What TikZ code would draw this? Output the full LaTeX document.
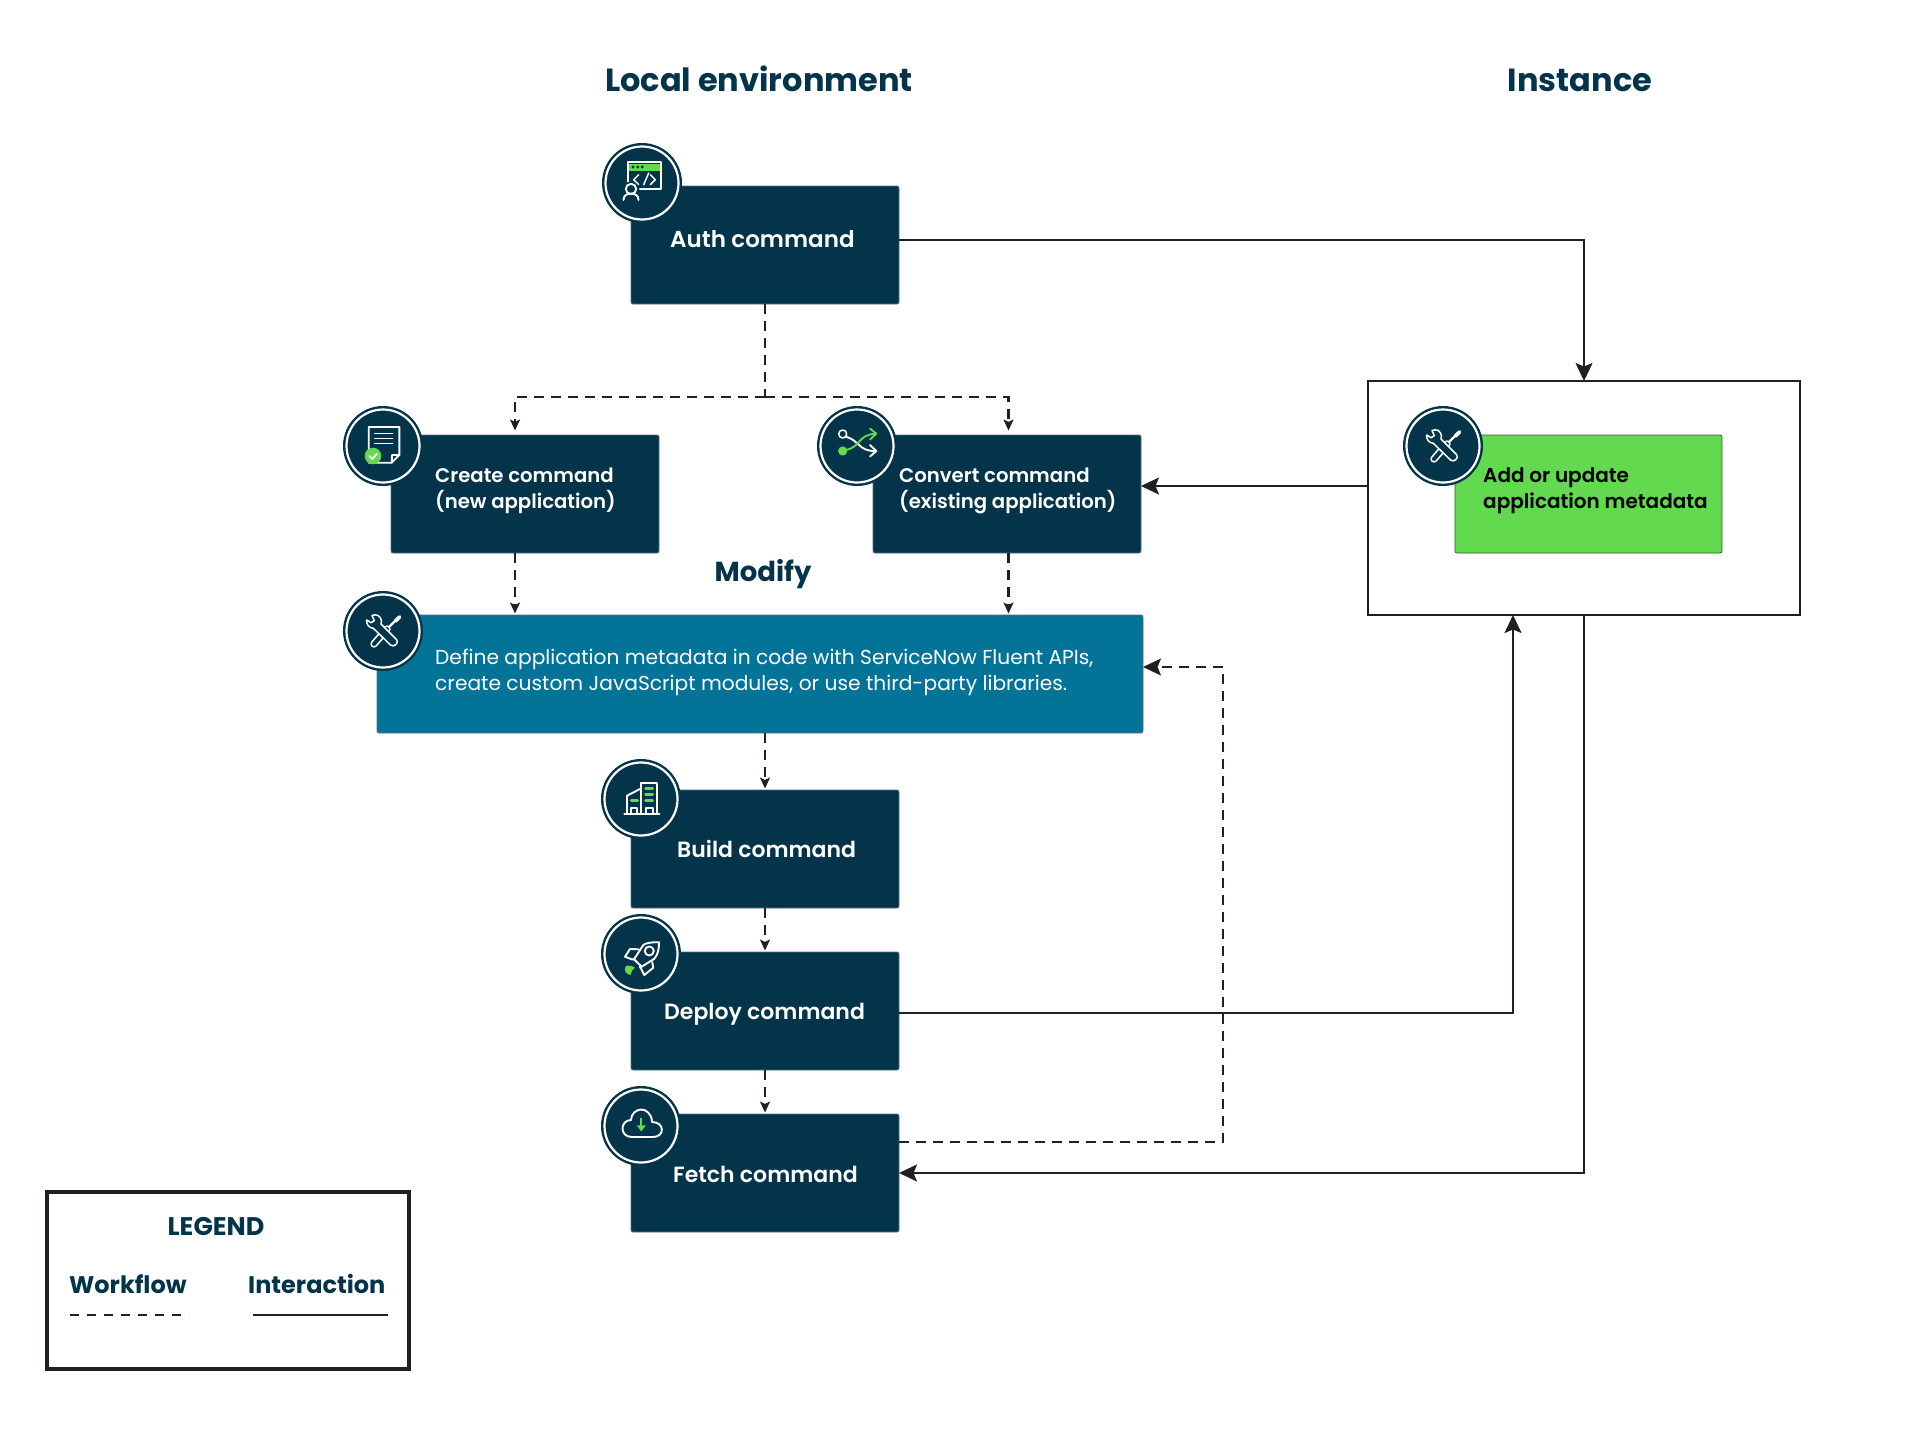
\documentclass[tikz,border=0pt]{standalone}
\usepackage{fontspec}
\setmainfont{Poppins}[BoldFont={Poppins SemiBold}]
\newfontfamily\headf{Poppins}
\usetikzlibrary{arrows.meta}
\definecolor{navy}{HTML}{03344A}
\definecolor{teal}{HTML}{047398}
\definecolor{lime}{HTML}{62D94F}
\definecolor{ink}{HTML}{231F20}
\newcommand{\labfont}[1]{\fontsize{#1}{26}\selectfont\bfseries}
\newcommand{\headfont}[1]{\fontsize{#1}{#1}\headf\bfseries}
\tikzset{
  x=1pt,y=-1pt,
  cmdbox/.style={rectangle,rounded corners=2pt,fill=navy,draw=navy!70!white,line width=.8pt,inner sep=0pt,outer sep=0pt,minimum width=268pt,minimum height=118pt},
  badge/.style={circle,fill=navy,inner sep=0pt,minimum size=80pt},
  boxlabel/.style={anchor=base west,inner sep=0pt,align=left,text=white,font=\labfont{22}},
  heading/.style={anchor=base,inner sep=0pt,text=navy,font=\headfont{32}},
  flow/.style={ink,line width=2.2pt,dash pattern=on 10pt off 7pt,-{Stealth[length=11pt,width=10pt,inset=2.5pt]}},
  link/.style={ink,line width=2pt,-{Stealth[length=18pt,width=17pt,inset=3.5pt]}},
  ico/.style={white,line width=1.9pt,line cap=round,line join=round},
  icofine/.style={white,line width=1.5pt,line cap=round,line join=round},
  pics/ring/.style={code={\draw[white,line width=2.2pt] (0,0) circle (36.5);}},
  pics/tools/.style={code={
    \draw[white,line width=7.4pt,line cap=round] (4,-2) -- (-9,13);
    \draw[navy,line width=4pt,line cap=round] (4,-2) -- (-9,13);
    \draw[white,line width=2.2pt,line cap=round] (6,-4) -- (13,-11);
    \draw[white,line width=3.8pt,line cap=round] (12.5,-10) -- (16.5,-14);
    \draw[icofine,fill=navy] (-16.3,-11) .. controls (-17,-7) and (-14,-3) .. (-9.7,-2.7) -- (7.5,14) .. controls (9.5,15.5) and (11.5,15) .. (13,13.5) .. controls (14.5,12) and (15,10) .. (13.5,8.5) -- (-2,-7) .. controls (-.5,-11) and (-3,-16.5) .. (-8,-16.2) -- (-11,-15.5) -- (-8.7,-10.3) -- (-12,-8.3) -- cycle;
  }},
  pics/authicon/.style={code={
    \draw[ico] (-14,-21) rectangle (19,6);
    \fill[lime] (-13,-19.5) rectangle (18,-12.5);
    \foreach \q in {-9,-4.3,.3} \fill[navy] (\q,-16) circle (1.6);
    \draw[icofine] (-3.3,-8.3) -- (-8.3,-3.3) -- (-3.3,1.7);
    \draw[icofine] (6.7,-10) -- (1.7,1.7);
    \draw[icofine] (8.3,-8.3) -- (13.3,-3.3) -- (8.3,1.7);
    \fill[navy] (-11,7) circle (8.5);
    \draw[ico] (-11,6) circle (5.2);
    \draw[ico] (-18.5,17) .. controls (-18.5,12.5) and (-15,10.5) .. (-11,10.5) .. controls (-7,10.5) and (-3.5,12.5) .. (-3.5,17);
  }},
  pics/docicon/.style={code={
    \draw[ico] (-14.3,-19) -- (16.3,-19) -- (16.3,9) -- (8.7,16.7) -- (-14.3,16.7) -- cycle;
    \draw[ico] (16.3,9) -- (9,9) -- (8.7,16.7);
    \foreach \q in {-12.3,-7.3,-2.3} \draw[icofine] (-8.3,\q) -- (9.7,\q);
    \fill[lime] (-10,10) circle (8.3);
    \draw[white,line width=1.8pt,line cap=round,line join=round] (-13.7,10) -- (-10.7,13) -- (-6,7.7);
  }},
  pics/swapicon/.style={code={
    \draw[ico] (-10.5,-9) .. controls (-3,-7) and (-1,-3) .. (1,-2) .. controls (6,3) and (10,5) .. (18,5);
    \draw[ico] (13,-1) -- (19.3,5) -- (13,10.5);
    \draw[icofine] (-14.3,-12) circle (4);
    \draw[lime,line width=1.9pt,line cap=round,line join=round] (-12,4) .. controls (-4,3) and (-1,-1) .. (1,-3) .. controls (6,-9) and (10,-12) .. (18,-12);
    \draw[lime,line width=1.9pt,line cap=round,line join=round] (13,-17.5) -- (19.3,-12.3) -- (13,-6.5);
    \fill[lime] (-14.3,5) circle (4.6);
  }},
  pics/buildicon/.style={code={
    \draw[ico] (-16.7,14.7) -- (18.3,14.7);
    \draw[ico] (.3,14.7) -- (.3,-16.3) -- (16,-16.3) -- (16,14.7);
    \draw[ico] (-14,14.7) -- (-14,-3.3) -- (.3,-10.7);
    \draw[ico] (-10,14.7) -- (-10,8.7) -- (-4,8.7) -- (-4,14.7);
    \draw[ico] (5,14.7) -- (5,8.7) -- (11.7,8.7) -- (11.7,14.7);
    \foreach \q in {-10.3,-4.3,1.7} \draw[lime,line width=3pt,line cap=round] (4.7,\q) -- (11.7,\q);
    \draw[lime,line width=3pt,line cap=round] (-9.7,1.7) -- (-3.3,1.7);
  }},
  pics/rocketicon/.style={code={
    \draw[ico] (18,-11.7) .. controls (10,-12) and (5,-11) .. (2.3,-9) -- (-7,5.3) -- (.7,12.7) -- (13,5) .. controls (17,1) and (18,-5) .. (18,-11.7) -- cycle;
    \draw[ico] (8.3,-3) circle (4.5);
    \draw[ico] (-2.5,-4.7) -- (-11,-5) -- (-16,2.7) -- (-9.3,5.3) -- (-7,5.3);
    \draw[ico] (11.3,8.3) -- (12.3,13.7) -- (3.3,21) -- (-1,12.7) -- (.7,12.7);
    \fill[lime] (-14.3,11.7) .. controls (-11,11) and (-8,12) .. (-6,13.7) .. controls (-8.5,15) and (-9.5,17) .. (-10.3,21) .. controls (-13,20.5) and (-15,19) .. (-15.3,18) .. controls (-16.5,16) and (-16.7,14) .. (-14.3,11.7) -- cycle;
  }},
  pics/cloudicon/.style={code={
    \draw[ico] (-9,11) -- (12,11) .. controls (24,11) and (24,-4) .. (11,-4) .. controls (11,-12) and (5,-16.5) .. (0.5,-16.5) .. controls (-5,-16.5) and (-10,-12) .. (-10,-6) .. controls (-21,-6) and (-22,11) .. (-9,11) -- cycle;
    \draw[lime,line width=1.8pt] (.3,-8) -- (.3,2);
    \fill[lime] (-4.2,-.7) -- (4.8,-.7) -- (.3,5.5) -- cycle;
  }},
}
\begin{document}
\begin{tikzpicture}
\useasboundingbox (0,0) rectangle (1920,1440);
\fill[white] (0,0) rectangle (1920,1440);

% headings
\node[heading] (hlocal) at (759,91) {Local environment};
\node[heading] (hinst) at (1580,91) {Instance};
\node[heading,font=\headfont{27.5}] (hmod) at (763,581) {Modify};

% instance container
\node[rectangle,draw=ink,line width=2.4pt,fill=white,inner sep=0pt,outer sep=0pt,minimum width=432pt,minimum height=234pt,anchor=north west] (inst) at (1368,381) {};

% boxes
\node[cmdbox,anchor=north west] (auth) at (631,186) {};
\node[cmdbox,anchor=north west] (create) at (391,435) {};
\node[cmdbox,anchor=north west] (conv) at (873,435) {};
\node[cmdbox,anchor=north west,fill=teal,minimum width=766pt] (modify) at (377,615) {};
\node[cmdbox,anchor=north west] (build) at (631,790) {};
\node[cmdbox,anchor=north west] (deploy) at (631,952) {};
\node[cmdbox,anchor=north west] (fetch) at (631,1114) {};
\node[cmdbox,anchor=north west,fill=lime,draw=black!55!lime,minimum width=267pt] (meta) at (1455,435) {};

% labels
\node[boxlabel,font=\labfont{23}] (lauth) at (670,247) {Auth command};
\node[boxlabel,font=\labfont{19.7}] (lcreate) at (435,508) {Create command\\(new application)};
\node[boxlabel,font=\labfont{19.7}] (lconv) at (899,508) {Convert command\\(existing application)};
\node[boxlabel,font=\labfont{20},text=black] (lmeta) at (1483,508) {Add or update\\application metadata};
\node[boxlabel,font=\fontsize{20.2}{26}\selectfont] (lmod) at (435,690) {Define application metadata in code with ServiceNow Fluent APIs,\\create custom JavaScript modules, or use third-party libraries.};
\node[boxlabel] (lbuild) at (677,857) {Build command};
\node[boxlabel] (ldeploy) at (664,1019) {Deploy command};
\node[boxlabel] (lfetch) at (673,1182) {Fetch command};

% badges
\node[badge] (bauth) at (642,183) {};
\pic at (bauth) {ring}; \pic at (bauth) {authicon};
\node[badge] (bcreate) at (383,446) {};
\pic at (bcreate) {ring}; \pic at (bcreate) {docicon};
\node[badge] (bconv) at (857,446) {};
\pic at (bconv) {ring}; \pic at (bconv) {swapicon};
\node[badge] (bmod) at (383,631) {};
\pic at (bmod) {ring}; \pic at (bmod) {tools};
\node[badge] (bmeta) at (1443,446) {};
\pic at (bmeta) {ring}; \pic at (bmeta) {tools};
\node[badge] (bbuild) at (641,799) {};
\pic at (bbuild) {ring}; \pic at (bbuild) {buildicon};
\node[badge] (bdeploy) at (641,954) {};
\pic at (bdeploy) {ring}; \pic at (bdeploy) {rocketicon};
\node[badge] (bfetch) at (641,1126) {};
\pic at (bfetch) {ring}; \pic at (bfetch) {cloudicon};

% workflow connectors
\coordinate (bus) at (765,397);
\coordinate (fcorner) at (1223,1142);
\coordinate (fup) at (1223,667);
\draw[flow,-] (auth.south) -- (bus);
\draw[flow,shorten >=4.5pt] (bus) -| ([xshift=-10pt]create.north);
\draw[flow,shorten >=4.5pt] (bus) -| ([xshift=1.5pt]conv.north);
\draw[flow,shorten >=1.5pt] ([xshift=-10pt]create.south) -- ([xshift=-10pt]create.south |- modify.north);
\draw[flow,shorten >=1.5pt] ([xshift=1.5pt]conv.south) -- ([xshift=1.5pt]conv.south |- modify.north);
\draw[flow,shorten >=1.5pt] (auth.south |- modify.south) -- (build.north);
\draw[flow,shorten >=1.5pt] (build.south) -- (deploy.north);
\draw[flow,shorten >=1.5pt] (deploy.south) -- (fetch.north);
\draw[flow,line width=1.8pt,-{Stealth[length=18pt,width=17pt,inset=3.5pt]}] (fetch.east |- fcorner) -- (fcorner) -- (fup) -- (fup -| modify.east);

% interaction connectors
\draw[link] ([yshift=5pt]auth.east) -| (inst.north);
\draw[link] ([yshift=8pt]inst.west |- conv.east) -- ([yshift=8pt]conv.east);
\draw[link] ([yshift=-2pt]deploy.east) -| (1513,615);
\draw[link] (inst.south) |- (fetch.east);

% legend
\node[rectangle,draw=ink,line width=4pt,fill=white,inner sep=0pt,outer sep=0pt,minimum width=362pt,minimum height=177pt,anchor=north west] (legend) at (47,1192) {};
\node[heading,font=\headfont{25.5}] (lgtitle) at (216,1235) {LEGEND};
\node[heading,font=\headfont{24}] (lgwork) at (69,1293) [anchor=base west] {Workflow};
\node[heading,font=\headfont{24}] (lginter) at (248,1293) [anchor=base west] {Interaction};
\coordinate (wa) at (70,1315); \coordinate (wb) at (189,1315);
\coordinate (ia) at (253,1315); \coordinate (ib) at (388,1315);
\draw[ink,line width=1.8pt,dash pattern=on 9pt off 8pt] (wa) -- (wb);
\draw[ink,line width=2pt] (ia) -- (ib);
\end{tikzpicture}
\end{document}
